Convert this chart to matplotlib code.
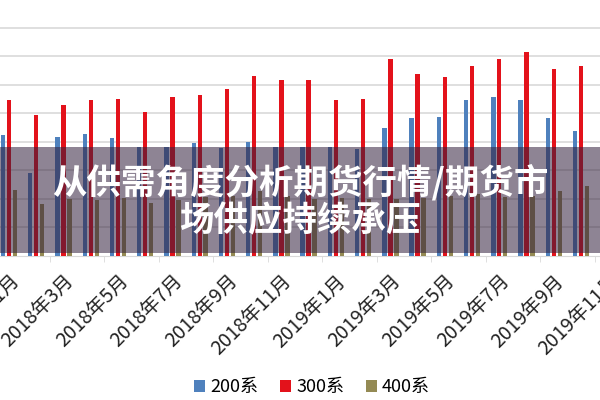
import matplotlib
matplotlib.use("Agg")
import matplotlib.pyplot as plt
from matplotlib.patches import Rectangle
import numpy as np

plt.rcParams['font.family'] = ['Noto Sans CJK SC', 'DejaVu Sans']

# monthly data, 2018-01 .. 2019-11 (gridline step = 1 unit)
months = ['2018年1月', '2018年2月', '2018年3月', '2018年4月', '2018年5月', '2018年6月',
          '2018年7月', '2018年8月', '2018年9月', '2018年10月', '2018年11月', '2018年12月',
          '2019年1月', '2019年2月', '2019年3月', '2019年4月', '2019年5月', '2019年6月',
          '2019年7月', '2019年8月', '2019年9月', '2019年10月', '2019年11月']
s200 = [4.23, 2.90, 4.17, 4.28, 4.11, 3.81, 3.81, 3.95, 3.76, 3.99, 3.81, 3.81,
        3.81, 3.75, 4.46, 4.82, 4.87, 5.46, 5.57, 5.46, 4.82, 4.36, 4.20]
s300 = [5.46, 4.93, 5.27, 5.46, 5.50, 5.04, 5.56, 5.62, 5.85, 6.31, 6.15, 6.15,
        5.46, 5.50, 6.89, 6.37, 6.25, 6.66, 6.89, 7.13, 6.54, 6.66, 6.60]
s400 = [2.31, 1.80, 2.00, 1.96, 2.02, 1.84, 1.96, 2.05, 2.10, 2.26, 2.10, 2.00,
        2.03, 2.00, 1.97, 2.03, 2.10, 2.17, 2.05, 2.10, 2.26, 2.44, 2.30]
series_names = ['200系', '300系', '400系']
colors = ['#4F81BD', '#E3121B', '#948A54']

title_lines = ['从供需角度分析期货行情/期货市', '场供应持续承压']

fig = plt.figure(figsize=(6, 4), dpi=100)
# the chart is cropped: plot area runs past both side edges
ax = fig.add_axes([-0.0077, 0.3612, 1.0442, 0.6388])

x = np.arange(len(months))
w = 0.16
off = 0.22
bars = []
for k, (vals, c) in enumerate(zip([s200, s300, s400], colors)):
    b = ax.bar(x + (k - 1) * off, vals, width=w, color=c, zorder=3)
    bars.append(b)

ax.set_xlim(-0.5, len(months) - 0.5)
ax.set_ylim(0, 8.97)
ax.set_yticks(np.arange(1, 9))
ax.yaxis.grid(True, color='#D9D9D9', linewidth=1.2)
ax.tick_params(axis='y', left=False, labelleft=False)
for s in ['top', 'right', 'left']:
    ax.spines[s].set_visible(False)
ax.spines['bottom'].set_color('#D9D9D9')

ax.set_xticks(x[::2])
ax.set_xticklabels(months[::2], rotation=45, ha='right', rotation_mode='anchor',
                   fontsize=14, color='#222222')
ax.tick_params(axis='x', length=0, pad=11)
ax.set_xticks(np.arange(1.5, len(months), 2), minor=True)
ax.tick_params(axis='x', which='minor', length=4, color='#D9D9D9')

fig.legend(bars, series_names, loc='center', bbox_to_anchor=(0.52, 0.032),
           ncol=3, frameon=False, fontsize=13, handlelength=0.6, handleheight=0.6,
           handletextpad=0.3, columnspacing=1.2)

# translucent banner with headline
fig.add_artist(Rectangle((0, 1 - 253 / 400), 1, 106 / 400, transform=fig.transFigure,
                         facecolor='#32203C', alpha=0.55, edgecolor='none', zorder=5))
fig.text(0.5, 1 - 182 / 400, title_lines[0], ha='center', va='center', color='white',
         fontsize=24.8, fontweight='heavy', zorder=6)
fig.text(0.5, 1 - 221 / 400, title_lines[1], ha='center', va='center', color='white',
         fontsize=24.8, fontweight='heavy', zorder=6)

fig.savefig('out.png', dpi=100)
